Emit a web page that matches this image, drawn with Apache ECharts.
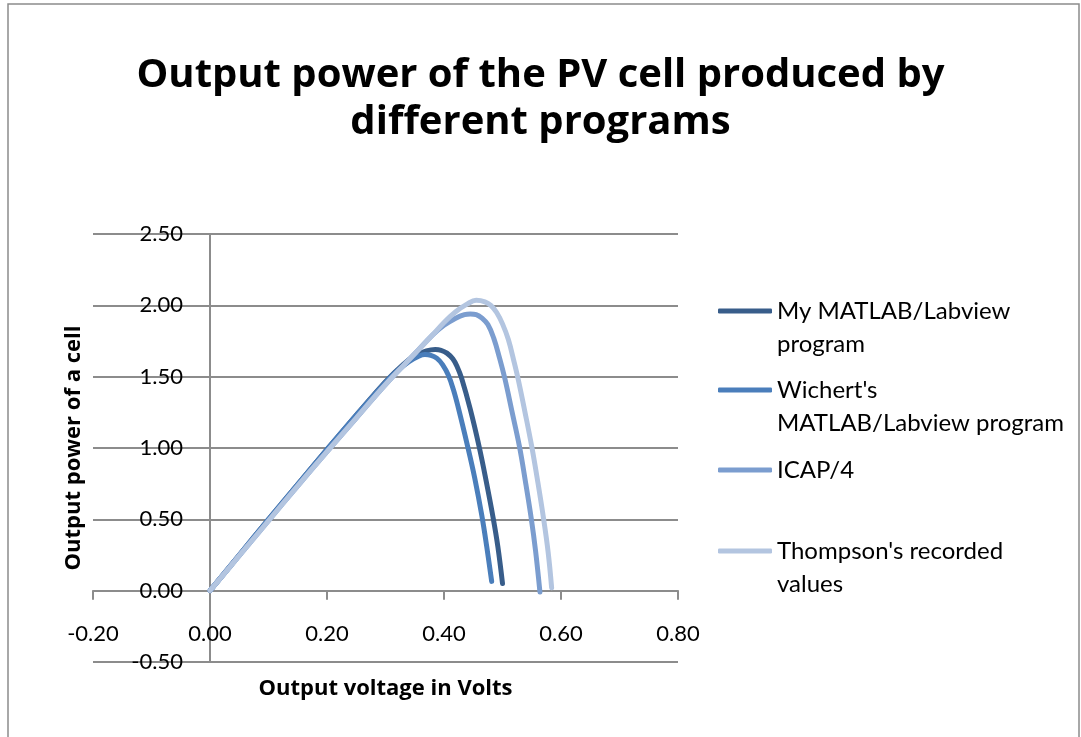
<!DOCTYPE html>
<html>
<head>
<meta charset="utf-8">
<script src="https://cdn.jsdelivr.net/npm/echarts@6/dist/echarts.min.js"></script>
<style>
  html, body { margin: 0; padding: 0; background: #fff; }
  #chart { width: 1081px; height: 737px; }
</style>
</head>
<body>
<div id="chart"></div>
<script>
// series names
const seriesNames = [
  "My MATLAB/Labview program",
  "Wichert's MATLAB/Labview program",
  "ICAP/4",
  "Thompson's recorded values"
];

// My MATLAB/Labview program
const myVolts = [0, 0.05, 0.10, 0.15, 0.20, 0.25, 0.30, 0.33, 0.35, 0.37, 0.385, 0.395, 0.405, 0.415, 0.4225, 0.43, 0.445, 0.46, 0.472, 0.484, 0.492, 0.50];
const myPower = [0, 0.25, 0.50, 0.745, 0.99, 1.23, 1.465, 1.585, 1.645, 1.68, 1.69, 1.685, 1.665, 1.625, 1.57, 1.49, 1.27, 1.01, 0.77, 0.51, 0.31, 0.05];

// Wichert's MATLAB/Labview program
const wichertVolts = [0, 0.05, 0.10, 0.15, 0.20, 0.25, 0.30, 0.32, 0.34, 0.355, 0.3675, 0.3775, 0.3875, 0.3975, 0.4075, 0.416, 0.424, 0.4405, 0.4525, 0.4645, 0.473, 0.4815];
const wichertPower = [0, 0.25, 0.50, 0.745, 0.99, 1.23, 1.46, 1.54, 1.605, 1.64, 1.655, 1.65, 1.63, 1.585, 1.51, 1.41, 1.29, 1.01, 0.79, 0.53, 0.31, 0.065];

// ICAP/4
const icapVolts = [0, 0.05, 0.10, 0.15, 0.20, 0.25, 0.30, 0.35, 0.38, 0.40, 0.42, 0.435, 0.445, 0.455, 0.465, 0.475, 0.485, 0.495, 0.5045, 0.5165, 0.529, 0.539, 0.549, 0.5565, 0.564];
const icapPower = [0, 0.245, 0.49, 0.735, 0.975, 1.21, 1.445, 1.66, 1.79, 1.86, 1.91, 1.935, 1.94, 1.935, 1.91, 1.865, 1.77, 1.63, 1.478, 1.25, 1.01, 0.77, 0.51, 0.28, -0.01];

// Thompson's recorded values
const thompsonVolts = [0, 0.05, 0.10, 0.15, 0.20, 0.25, 0.30, 0.35, 0.38, 0.40, 0.42, 0.44, 0.455, 0.47, 0.48, 0.49, 0.50, 0.51, 0.52, 0.527, 0.538, 0.55, 0.56, 0.57, 0.578, 0.584];
const thompsonPower = [0, 0.245, 0.49, 0.735, 0.975, 1.21, 1.445, 1.66, 1.79, 1.88, 1.955, 2.01, 2.035, 2.025, 2.0, 1.95, 1.87, 1.76, 1.60, 1.478, 1.26, 1.01, 0.77, 0.51, 0.27, 0.02];

const colors = ["#385D8A", "#4A7EBB", "#7B9DCF", "#B3C5E0"];
const font = "Lato, 'Open Sans', sans-serif";
const boldFont = "'Open Sans', Lato, sans-serif";

// legend text wraps like in the original
const wrapped = {
  "My MATLAB/Labview program": "My MATLAB/Labview\nprogram",
  "Wichert's MATLAB/Labview program": "Wichert's\nMATLAB/Labview program",
  "ICAP/4": "ICAP/4",
  "Thompson's recorded values": "Thompson's recorded\nvalues"
};

function zip(xs, ys) {
  return xs.map((x, i) => [x, ys[i]]);
}

const allData = [
  zip(myVolts, myPower),
  zip(wichertVolts, wichertPower),
  zip(icapVolts, icapPower),
  zip(thompsonVolts, thompsonPower)
];

const legendCenters = [311, 390, 470, 551];
const lineH = 33;

const chart = echarts.init(document.getElementById("chart"));

chart.setOption({
  animation: false,
  textStyle: { fontFamily: font },
  title: {
    text: "Output power of the PV cell produced by\ndifferent programs",
    left: "center",
    top: 52,
    padding: 0,
    textStyle: {
      fontFamily: boldFont,
      fontSize: 40,
      fontWeight: "bold",
      lineHeight: 47,
      color: "#000"
    }
  },
  graphic: [{
    type: "rect",
    shape: { x: 8, y: 4, width: 1071, height: 760 },
    style: { fill: "none", stroke: "#8c8c8c", lineWidth: 1.5 },
    silent: true
  }],
  legend: seriesNames.map((name, i) => {
    const twoLines = wrapped[name].indexOf("\n") >= 0;
    // text is centred on the icon: a blank first line keeps line 1 level with it
    return {
      orient: "vertical",
      left: 718,
      top: legendCenters[i] - (twoLines ? lineH * 1.5 : lineH / 2),
      padding: 0,
      icon: "roundRect",
      itemWidth: 54,
      itemHeight: 5,
      selectedMode: false,
      formatter: (n) => (wrapped[n].indexOf("\n") >= 0 ? " \n" : "") + wrapped[n],
      data: [{
        name: name,
        textStyle: {
          fontFamily: font,
          fontSize: 24,
          lineHeight: lineH,
          color: "#000"
        }
      }]
    };
  }),
  grid: {
    left: 93,
    right: 403,
    top: 234,
    bottom: 75,
    containLabel: false,
    outerBoundsMode: "none"
  },
  xAxis: {
    type: "value",
    min: -0.2,
    max: 0.8,
    interval: 0.2,
    name: "Output voltage in Volts",
    nameLocation: "middle",
    nameGap: 16,
    nameTextStyle: { fontFamily: boldFont, fontSize: 22, fontWeight: "bold", color: "#000" },
    axisLine: { onZero: true, lineStyle: { color: "#8c8c8c", width: 2 } },
    axisTick: { show: true, inside: false, length: 9, lineStyle: { color: "#8c8c8c", width: 2 } },
    axisLabel: {
      margin: -39,
      fontSize: 22,
      color: "#000",
      showMinLabel: true,
      showMaxLabel: true,
      formatter: (v) => v.toFixed(2)
    },
    splitLine: { show: false }
  },
  yAxis: {
    type: "value",
    min: -0.5,
    max: 2.5,
    interval: 0.5,
    name: "Output power of a cell",
    nameLocation: "middle",
    nameGap: 8,
    nameTextStyle: { fontFamily: boldFont, fontSize: 22, fontWeight: "bold", color: "#000" },
    axisLine: { onZero: true, lineStyle: { color: "#8c8c8c", width: 2 } },
    axisTick: { show: false },
    axisLabel: {
      margin: -90,
      fontSize: 22,
      color: "#000",
      formatter: (v) => v.toFixed(2)
    },
    splitLine: { show: true, lineStyle: { color: "#8c8c8c", width: 2 } }
  },
  series: seriesNames.map((name, i) => ({
    name: name,
    type: "line",
    data: allData[i],
    smooth: 0.4,
    symbol: "none",
    showSymbol: false,
    color: colors[i],
    lineStyle: { color: colors[i], width: 5, cap: "round", join: "round" }
  }))
});
</script>
</body>
</html>
